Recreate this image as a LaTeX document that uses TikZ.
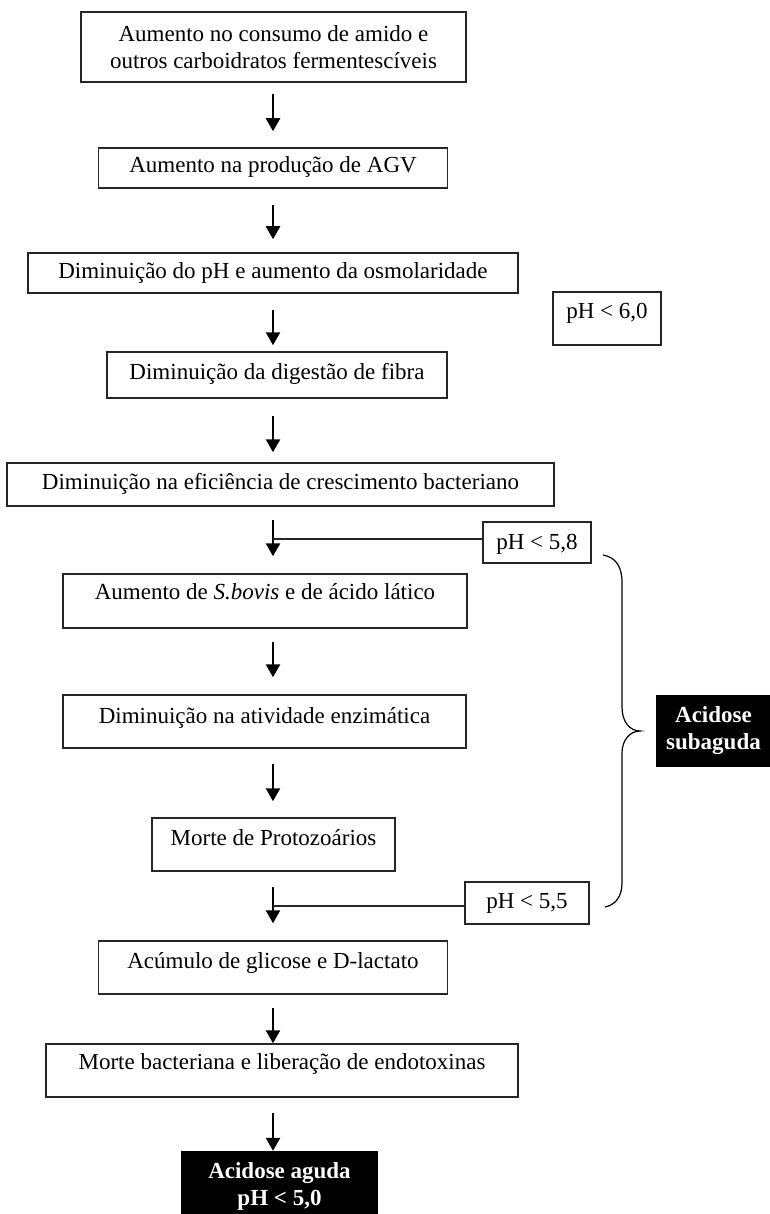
\documentclass[tikz,border=0pt]{standalone}
\usepackage{fontspec}
\setmainfont{Liberation Serif}
\usetikzlibrary{arrows.meta,calc}
\begin{document}
\begin{tikzpicture}[x=1pt,y=-1pt,
  box/.style={draw=black!85,line width=1.5pt,rectangle,inner xsep=0pt,inner ysep=0pt,font=\fontsize{23}{27}\selectfont,anchor=center},
  sz/.style n args={4}{minimum width=#1,minimum height=#2,text height=#3,text depth=#4},
  blk/.style={fill=black,text=white,inner sep=0pt,font=\bfseries\fontsize{23}{27}\selectfont,align=center},
  arr/.style={line width=2.5pt,-{Triangle[width=14pt,length=13pt]}},
  link/.style={line width=1.5pt,draw=black!85},
  bracestyle/.style={line width=1.2pt}]
\useasboundingbox (0,0) rectangle (769,1214);
\fill[white] (0,0) rectangle (769,1214);
\coordinate (ax) at (273,0);

\node[box,align=center,minimum width=385pt,minimum height=70pt] (b1) at (273.5,47) {Aumento no consumo de amido e\\outros carboidratos fermentescíveis};
\node[box,sz={349pt}{40pt}{25pt}{15pt}] (b2) at (273,168) {Aumento na produção de AGV};
\node[box,sz={490pt}{40pt}{26pt}{14pt}] (b3) at (273,273) {Diminuição do pH e aumento da osmolaridade};
\node[box,sz={340pt}{46pt}{27pt}{19pt}] (b4) at (277,375) {Diminuição da digestão de fibra};
\node[box,sz={547pt}{43pt}{26pt}{17pt}] (b5) at (280.5,484.5) {Diminuição na eficiência de crescimento bacteriano};
\node[box,sz={404pt}{54pt}{25pt}{29pt}] (b6) at (265,601) {Aumento de \textit{S.bovis} e de ácido lático};
\node[box,sz={403pt}{53pt}{28pt}{25pt}] (b7) at (264.5,721.5) {Diminuição na atividade enzimática};
\node[box,sz={243pt}{53pt}{27pt}{26pt}] (b8) at (273.5,844.5) {Morte de Protozoários};
\node[box,sz={349pt}{53pt}{27pt}{26pt}] (b9) at (273,967.5) {Acúmulo de glicose e D-lactato};
\node[box,sz={472pt}{53pt}{25pt}{28pt}] (b10) at (282,1070.5) {Morte bacteriana e liberação de endotoxinas};
\node[blk,minimum width=197pt,minimum height=71pt] (b11) at (279.5,1186.5) {Acidose aguda\\pH < 5,0};

\node[box,sz={108pt}{53pt}{27pt}{26pt}] (p60) at (607,318.5) {pH < 6,0};
\node[box,sz={108pt}{41pt}{27pt}{14pt}] (p58) at (537,542.5) {pH < 5,8};
\node[box,sz={124pt}{42pt}{26pt}{16pt}] (p55) at (527,903) {pH < 5,5};
\node[blk,minimum width=115pt,minimum height=72pt] (sub) at (713.5,731) {Acidose\\subaguda};

\draw[arr] ($(b1.south -| ax)+(0,11)$) -- ($(b2.north -| ax)+(0,-16)$);
\draw[arr] ($(b2.south -| ax)+(0,16)$) -- ($(b3.north -| ax)+(0,-13)$);
\draw[arr] ($(b3.south -| ax)+(0,16)$) -- ($(b4.north -| ax)+(0,-6)$);
\draw[arr] ($(b4.south -| ax)+(0,17)$) -- ($(b5.north -| ax)+(0,-10)$);
\draw[arr] ($(b5.south -| ax)+(0,13)$) -- ($(b6.north -| ax)+(0,-17)$);
\draw[arr] ($(b6.south -| ax)+(0,13)$) -- ($(b7.north -| ax)+(0,-17)$);
\draw[arr] ($(b7.south -| ax)+(0,15)$) -- ($(b8.north -| ax)+(0,-16)$);
\draw[arr] ($(b8.south -| ax)+(0,15)$) -- ($(b9.north -| ax)+(0,-17)$);
\draw[arr] ($(b9.south -| ax)+(0,13)$) -- (b10.north -| ax);
\draw[arr] ($(b10.south -| ax)+(0,15)$) -- (b11.north -| ax);

\draw[link] ([yshift=3.5pt]p58.west) -- ([yshift=3.5pt]p58.west -| ax);
\draw[link] ([yshift=-3pt]p55.west) -- ([yshift=-3pt]p55.west -| ax);

\draw[bracestyle] (603,555) .. controls (615,557) and (622,566) .. (622,582)
  -- (622,707) .. controls (622,722) and (630,731) .. (640,731)
  .. controls (630,731) and (622,740) .. (622,753)
  -- (622,883) .. controls (622,897) and (615,905) .. (605,907);
\end{tikzpicture}
\end{document}
